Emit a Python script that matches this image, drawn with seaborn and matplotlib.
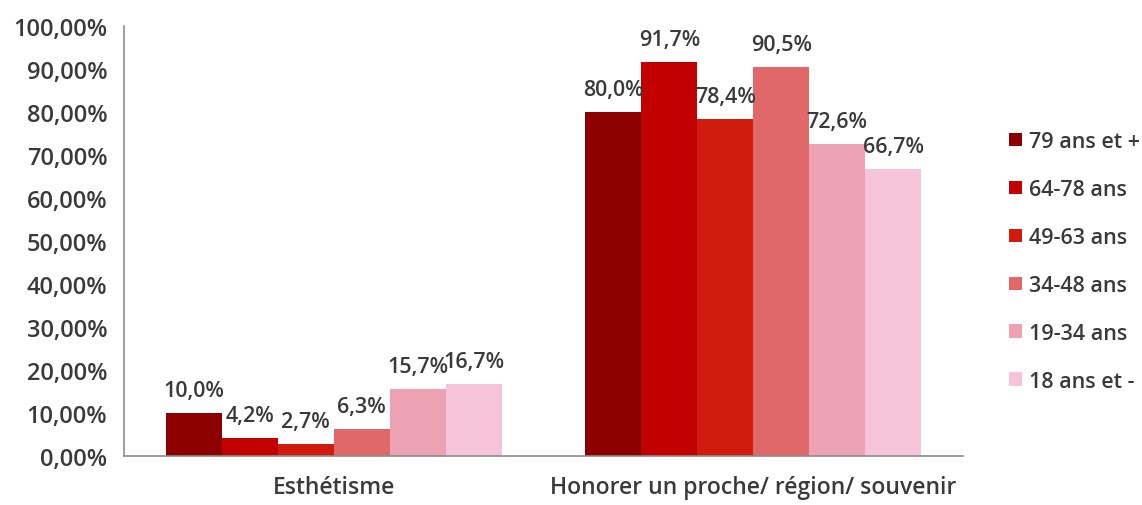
import matplotlib
matplotlib.use('Agg')
import matplotlib.pyplot as plt
import seaborn as sns
import pandas as pd
from matplotlib.ticker import FuncFormatter, FixedLocator

# ─── DATA ─────────────────────────────────────────────────────────────────────
CATEGORIES = ['Esthétisme', 'Honorer un proche/ région/ souvenir']
AGE_GROUPS = ['79 ans et +', '64-78 ans', '49-63 ans', '34-48 ans', '19-34 ans', '18 ans et -']
ESTHETISME = [10.0, 4.2, 2.7, 6.3, 15.7, 16.7]
HONORER    = [80.0, 91.7, 78.4, 90.5, 72.6, 66.7]
COLORS     = ['#8c0000', '#c20000', '#d01c0c', '#e16868', '#eca2b2', '#f6c4d8']
Y_TICKS    = [0, 10, 20, 30, 40, 50, 60, 70, 80, 90, 100]

rows = []
for cat, vals in zip(CATEGORIES, [ESTHETISME, HONORER]):
    for grp, v in zip(AGE_GROUPS, vals):
        rows.append({'categorie': cat, 'age': grp, 'valeur': v})
df = pd.DataFrame(rows)

# ─── PLOT ─────────────────────────────────────────────────────────────────────
sns.set_style('white')
plt.rcParams['font.family'] = ['Open Sans', 'DejaVu Sans']
plt.rcParams['font.weight'] = 'semibold'
TXT = '#3a3a3a'
AX = '#8c8c8c'

fig = plt.figure(figsize=(11.42, 5.06), dpi=100)
ax = fig.add_axes([0.1086, 0.0968, 0.7347, 0.8498])

sns.barplot(data=df, x='categorie', y='valeur', hue='age',
            order=CATEGORIES, hue_order=AGE_GROUPS,
            palette=COLORS, width=0.8, saturation=1, linewidth=0,
            ax=ax, legend=True)

for cont in ax.containers:
    for bar in cont:
        h = bar.get_height()
        ax.annotate(f'{h:.1f}%'.replace('.', ','),
                    (bar.get_x() + bar.get_width() / 2, h),
                    xytext=(0, 12), textcoords='offset pixels',
                    ha='center', va='bottom', fontsize=15.5, color=TXT,
                    fontweight='semibold')

ax.set_ylim(0, 100)
ax.set_xlim(-0.5, 1.5)
ax.yaxis.set_major_locator(FixedLocator(Y_TICKS))
ax.yaxis.set_major_formatter(FuncFormatter(lambda v, p: f'{v:.2f}%'.replace('.', ',')))
ax.set_xlabel('')
ax.set_ylabel('')

ax.tick_params(axis='y', length=6, color=AX, width=1.2, pad=6, labelsize=17, labelcolor=TXT)
ax.tick_params(axis='x', which='major', length=0, labelsize=16.5, labelcolor=TXT, pad=14)
ax.set_xticks([-0.5, 0.5, 1.5], minor=True)
ax.tick_params(axis='x', which='minor', length=5, color=AX, width=1.2)
for lbl in ax.get_yticklabels() + ax.get_xticklabels():
    lbl.set_fontweight('semibold')

sns.despine(ax=ax)
for s in ['left', 'bottom']:
    ax.spines[s].set_color(AX)
    ax.spines[s].set_linewidth(1.2)

leg = ax.legend(loc='upper left', bbox_to_anchor=(0.874, 0.76), bbox_transform=fig.transFigure,
                frameon=False, fontsize=15.5, handlelength=0.6, handleheight=0.6,
                handletextpad=0.35, labelspacing=1.25, labelcolor=TXT, borderpad=0)
for t in leg.get_texts():
    t.set_fontweight('semibold')

fig.savefig('out.png', dpi=100)
